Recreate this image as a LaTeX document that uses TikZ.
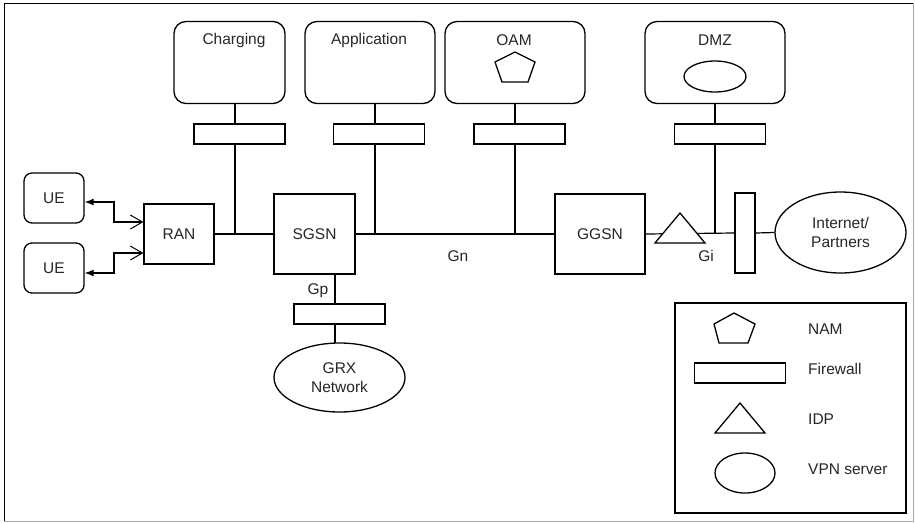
\documentclass[tikz,border=0pt]{standalone}
\usepackage{fontspec}
\setmainfont{Liberation Sans}
\usetikzlibrary{arrows.meta,shapes.geometric}
\begin{document}
\begin{tikzpicture}[x=1pt,y=-1pt,
  every node/.style={font=\fontsize{15.5}{19.5}\selectfont, text=black!85},
  sys/.style={draw, line width=1.3pt, rounded corners=12pt, inner sep=0pt, minimum height=82pt},
  blk/.style={draw, line width=1.3pt, inner sep=0pt, fill=white},
  fw/.style={draw, line width=1.3pt, fill=white, inner sep=0pt, minimum width=91pt, minimum height=20pt},
  oval/.style={draw, ellipse, line width=1.3pt, fill=white, inner sep=0pt},
  wire/.style={line width=2pt},
  thinwire/.style={line width=1.2pt},
  lbl/.style={inner sep=0pt},
  leg/.style={inner sep=0pt, anchor=west}]
\useasboundingbox (0,0) rectangle (915,523);
% frame
\draw[black, line width=1pt] (4,521) -- (4,3) -- (913,3);
\draw[black!35, line width=1pt] (913,3) -- (913,521) -- (4,521);

% upper systems
\node[sys, minimum width=111pt] (chg) at (229.5,62.5) {};
\node[lbl] (chgt) at (234,40) {Charging};
\node[sys, minimum width=130pt] (app) at (370,62.5) {};
\node[lbl] (appt) at (369,40) {Application};
\node[sys, minimum width=140pt] (oam) at (515,62.5) {};
\node[lbl] (oamt) at (514,40) {OAM};
\node[sys, minimum width=140pt] (dmz) at (715,62.5) {};
\node[lbl] (dmzt) at (715,40) {DMZ};
\draw[line width=1.3pt, fill=white] (515,52) -- (535,62) -- (528,82) -- (502,82) -- (495,62) -- cycle;
\node[oval, minimum width=62pt, minimum height=31pt] (dmzvpn) at (715,76.5) {};

% main nodes
\node[blk, minimum width=70pt, minimum height=60pt] (ran) at (179,234) {RAN};
\node[blk, minimum width=81pt, minimum height=80pt] (sgsn) at (314.5,234) {SGSN};
\node[blk, minimum width=90pt, minimum height=80pt] (ggsn) at (600,234) {GGSN};
\node[blk, minimum width=20pt, minimum height=80pt] (fwv) at (745,233) {};
\node[oval, minimum width=131pt, minimum height=81pt, align=center] (inet) at (840.5,232.5) {Internet/\\Partners};
\node[draw, line width=1.3pt, rounded corners=8pt, minimum width=60pt, minimum height=50pt, inner sep=0pt] (ue1) at (54,198) {UE};
\node[draw, line width=1.3pt, rounded corners=8pt, minimum width=60pt, minimum height=50pt, inner sep=0pt] (ue2) at (54,268) {UE};

% junctions
\coordinate (jc) at (235,234);
\coordinate (ja) at (375,234);
\coordinate (jo) at (515,234);
\coordinate (jd) at (715,234);
\coordinate (gpj) at (335,344);

% main line
\draw[thinwire] (ran.east) -- (sgsn.west);
\draw[thinwire] (sgsn.east) -- (ggsn.west);
\draw[thinwire] (ggsn.east) -- (fwv.west);
\draw[thinwire] (fwv.east) -- (inet.west);

% vertical wires
\draw[wire] (jc |- chg.south) -- (jc);
\draw[wire] (ja |- app.south) -- (ja);
\draw[wire] (jo |- oam.south) -- (jo);
\draw[wire] (jd |- dmz.south) -- (jd);
\draw[wire] (gpj |- sgsn.south) -- (gpj);

% firewalls
\node[fw] (fwc) at (239.5,134) {};
\node[fw] (fwa) at (379,134) {};
\node[fw] (fwo) at (519.5,134) {};
\node[fw] (fwd) at (720,134) {};
\node[fw] (fwg) at (339.5,314) {};

% IDP
\draw[line width=1.3pt, fill=white] (655,243) -- (680,213) -- (705,243) -- cycle;

% GRX
\node[oval, minimum width=131pt, minimum height=69pt, align=center] (grx) at (339.5,377.5) {GRX\\Network};

% labels
\node[lbl] (gn) at (458,256) {Gn};
\node[lbl] (gi) at (706,256) {Gi};
\node[lbl] (gp) at (318,291) {Gp};

% UE arrows
\draw[line width=1.2pt, {Latex[length=9pt,width=7pt]}-{Straight Barb[length=12pt,width=14pt,line width=1pt]}]
  (ue1.east |- 0,202) -- (114,202) -- (114,222) -- (ran.west |- 0,222);
\draw[line width=1.2pt, {Latex[length=9pt,width=7pt]}-{Straight Barb[length=12pt,width=14pt,line width=1pt]}]
  (ue2.east |- 0,273) -- (114,273) -- (114,253) -- (ran.west |- 0,253);

% legend
\node[draw, line width=1.3pt, minimum width=231pt, minimum height=210pt, inner sep=0pt] (legend) at (790.5,408) {};
\draw[line width=1.3pt] (734,313) -- (755,324) -- (748,343) -- (719,343) -- (714,324) -- cycle;
\node[leg] (lnam) at (808,329) {NAM};
\node[fw] (lfw) at (740,373) {};
\node[leg] (lfwt) at (808,369) {Firewall};
\draw[line width=1.3pt] (715,433) -- (740,403) -- (765,433) -- cycle;
\node[leg] (lidp) at (808,419) {IDP};
\node[oval, minimum width=60pt, minimum height=40pt] (lvpn) at (745,473) {};
\node[leg] (lvpnt) at (808,469) {VPN server};
\end{tikzpicture}
\end{document}
